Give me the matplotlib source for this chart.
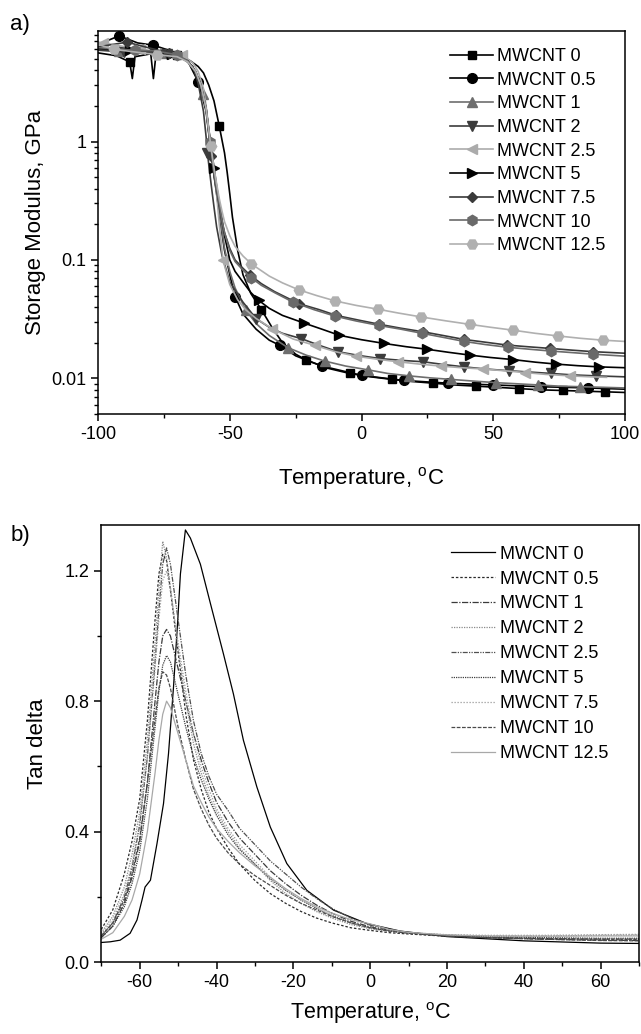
import matplotlib
matplotlib.use("Agg")
import matplotlib.pyplot as plt
from matplotlib.ticker import FixedLocator, FixedFormatter, LogLocator, MultipleLocator, NullFormatter

plt.rcParams['font.family'] = ['Liberation Sans', 'DejaVu Sans']
plt.rcParams['mathtext.fontset'] = 'custom'
plt.rcParams['mathtext.rm'] = 'Liberation Sans'
plt.rcParams['axes.unicode_minus'] = False

labels = ['MWCNT 0', 'MWCNT 0.5', 'MWCNT 1', 'MWCNT 2', 'MWCNT 2.5',
          'MWCNT 5', 'MWCNT 7.5', 'MWCNT 10', 'MWCNT 12.5']

# ---- a) storage modulus (GPa) vs temperature ----
T_0 = [-100, -93, -88, -87, -86, -80, -79, -78, -70, -65, -62, -60, -58, -56, -54, -52, -51, -50,
       -49, -47, -45, -42, -38, -34, -30, -25, -21, -13, -4.5, 3.5, 11.5, 19.5, 27.3, 35, 43.3,
       51.5, 59.6, 68, 76.3, 84, 92.3, 100]
E_0 = [5.6, 5.3, 4.7, 3.4, 5.2, 5.5, 3.4, 5.5, 5.4, 4.8, 4.3, 3.8, 3.0, 2.2, 1.35, 0.8, 0.55, 0.36,
       0.23, 0.12, 0.075, 0.052, 0.038, 0.027, 0.02, 0.016, 0.0143, 0.0122, 0.011, 0.0103, 0.0098,
       0.0094, 0.0091, 0.0088, 0.0086, 0.0084, 0.0082, 0.008, 0.0079, 0.0078, 0.0077, 0.0076]
M_0 = [-88, -70, -54, -38, -21, -4.5, 11.5, 27.3, 43.3, 59.6, 76.3, 92.3]

T_05 = [-100, -92, -85, -79, -70, -66, -62, -60, -59, -57.5, -56, -55, -54, -53, -52, -50, -48, -45,
        -40, -35, -31, -25, -20, -15, 0, 16, 33, 50, 68, 86, 100]
E_05 = [6.6, 7.8, 6.8, 6.5, 5.6, 4.8, 3.2, 2.2, 1.8, 0.95, 0.52, 0.36, 0.25, 0.17, 0.12, 0.075, 0.049,
        0.035, 0.026, 0.021, 0.019, 0.0155, 0.014, 0.0127, 0.0106, 0.0096, 0.0091, 0.0088, 0.0085,
        0.0083, 0.0081]
M_05 = [-92, -79, -62, -48, -31, -15, 0, 16, 33, 50, 68, 86]

T_1 = [-100, -92, -84, -76, -70, -66, -63, -60, -59, -57.5, -56, -55, -54, -53, -52, -50, -48, -44,
       -40, -35, -28, -21, -14, -6, 2.5, 10, 18, 26, 34, 42, 51, 59, 67, 75, 83, 92, 100]
E_1 = [6.0, 5.8, 5.7, 5.6, 5.3, 4.7, 3.9, 2.5, 1.9, 1.0, 0.55, 0.38, 0.26, 0.18, 0.125, 0.08, 0.058,
       0.038, 0.029, 0.023, 0.0182, 0.0157, 0.014, 0.0127, 0.0118, 0.011, 0.0105, 0.0101, 0.0098,
       0.0095, 0.0092, 0.009, 0.0088, 0.0086, 0.0085, 0.0084, 0.0083]
M_1 = [-92, -76, -60, -44, -28, -14, 2.5, 18, 34, 51, 67, 83]

T_2 = [-100, -90, -82, -74, -68, -64, -62, -60, -59, -58.5, -57, -56, -55, -53, -50, -45, -40, -35,
       -30, -23, -16, -9, -1, 7, 15, 23.5, 31, 39, 47, 56, 64, 72, 80, 89, 100]
E_2 = [5.9, 5.7, 5.6, 5.5, 5.1, 4.3, 3.1, 1.8, 1.1, 0.8, 0.42, 0.28, 0.19, 0.11, 0.065, 0.044, 0.0319,
       0.027, 0.024, 0.0217, 0.019, 0.0168, 0.0156, 0.0147, 0.0142, 0.0138, 0.0131, 0.0125, 0.012,
       0.0116, 0.0113, 0.011, 0.0107, 0.0105, 0.0103]
M_2 = [-90, -74, -58.5, -40, -23, -9, 7, 23.5, 39, 56, 72, 89]

T_25 = [-100, -98, -84, -75, -68, -64, -62, -60, -59, -57.5, -56, -55, -54, -52.6, -50, -47, -44, -40,
        -34, -26, -17.7, -10, -2.2, 6, 14, 22, 30, 38, 46, 54, 62, 70, 79, 87, 93]
E_25 = [6.9, 6.8, 6.0, 5.7, 5.4, 4.6, 3.9, 2.8, 2.0, 1.05, 0.58, 0.36, 0.2, 0.1, 0.062, 0.046, 0.038,
        0.032, 0.0263, 0.0215, 0.019, 0.0168, 0.0154, 0.0145, 0.0138, 0.0132, 0.0127, 0.0123, 0.012,
        0.0116, 0.0112, 0.0108, 0.0105, 0.0103, 0.0102]
M_25 = [-98, -84, -68, -52.6, -34, -17.7, -2.2, 14, 30, 46, 62, 79]

T_5 = [-100, -88, -80, -72, -66, -63, -61, -59, -57.5, -56, -55, -54, -53, -52, -50, -48, -45, -42,
       -39, -35, -30, -22, -15, -8.4, 0, 8.7, 17, 25, 33, 41.3, 49, 57.6, 66, 73.9, 82, 90.2, 100]
E_5 = [6.1, 5.9, 5.8, 5.5, 4.8, 3.9, 3.0, 1.9, 1.05, 0.6, 0.42, 0.3, 0.22, 0.16, 0.1, 0.08, 0.065,
       0.053, 0.0455, 0.039, 0.034, 0.0294, 0.026, 0.0231, 0.0212, 0.0197, 0.0185, 0.0176, 0.0166,
       0.0157, 0.015, 0.0144, 0.0137, 0.0132, 0.0128, 0.0125, 0.0123]
M_5 = [-88, -72, -56, -39, -22, -8.4, 8.7, 25, 41.3, 57.6, 73.9, 90.2]

T_75 = [-100, -89, -81, -73, -66, -63, -61, -59, -57, -56, -55, -54, -53, -52, -50, -48, -45, -42.2,
        -38, -33, -23.6, -16, -9.6, -1, 6.8, 15, 23.5, 31, 39, 47, 55.3, 63, 71.6, 80, 87.9, 100]
E_75 = [6.3, 6.9, 6.2, 5.6, 4.8, 3.9, 3.0, 1.9, 0.75, 0.52, 0.38, 0.28, 0.21, 0.17, 0.125, 0.1, 0.085,
        0.074, 0.063, 0.054, 0.0426, 0.038, 0.034, 0.031, 0.0286, 0.0265, 0.0247, 0.023, 0.0213,
        0.0202, 0.0191, 0.0185, 0.0179, 0.0173, 0.0168, 0.0163]
M_75 = [-89, -73, -57, -42.2, -23.6, -9.6, 6.8, 23.5, 39, 55.3, 71.6, 87.9]

T_10 = [-100, -86, -78, -70, -66, -63, -61, -59, -57.5, -56, -55, -54, -53, -52, -50, -48, -45, -42,
        -38, -33, -26, -18, -10, -2, 6.5, 15, 23, 31, 39, 47, 55.5, 64, 72, 80, 88, 100]
E_10 = [6.2, 5.9, 5.8, 5.4, 4.8, 3.9, 3.0, 1.9, 1.0, 0.55, 0.4, 0.3, 0.22, 0.17, 0.12, 0.097, 0.082,
        0.071, 0.061, 0.053, 0.044, 0.038, 0.0335, 0.0305, 0.028, 0.026, 0.024, 0.0222, 0.0205,
        0.0193, 0.0183, 0.0176, 0.017, 0.0165, 0.016, 0.0154]
M_10 = [-86, -70, -57.5, -42, -26, -10, 6.5, 23, 39, 55.5, 72, 88]

T_125 = [-100, -94, -86, -77.7, -70, -66, -63, -61, -59, -57.2, -56, -55, -54, -53, -52, -50, -48,
         -45, -41.8, -35, -30, -23.9, -17, -9.9, -2, 6.4, 14, 22.7, 32, 41, 49, 57.6, 66, 74.7, 83,
         91.8, 100]
E_125 = [6.6, 6.0, 5.7, 5.4, 5.2, 4.7, 3.9, 3.0, 1.9, 0.91, 0.6, 0.44, 0.33, 0.26, 0.21, 0.16, 0.13,
         0.108, 0.0925, 0.073, 0.064, 0.056, 0.05, 0.045, 0.0413, 0.0383, 0.0356, 0.033, 0.0306,
         0.0286, 0.027, 0.0255, 0.024, 0.0228, 0.0218, 0.021, 0.0205]
M_125 = [-94, -77.7, -57.2, -41.8, -23.9, -9.9, 6.4, 22.7, 41, 57.6, 74.7, 91.8]

# ---- b) tan delta vs temperature ----
Tt_0 = [-70, -67.7, -65.1, -62.5, -60.7, -59.4, -58.6, -57.2, -55.5, -53.8, -52.5, -51.2, -50.1,
        -49.4, -48.1, -46.8, -44.2, -41.6, -38.2, -35.6, -33.0, -29.5, -26.0, -21.7, -16.5, -9.5,
        -0.9, 7.8, 20, 40, 60, 70]
tan_0 = [0.06, 0.062, 0.067, 0.088, 0.129, 0.19, 0.23, 0.251, 0.363, 0.486, 0.639, 0.843, 1.047,
         1.19, 1.325, 1.30, 1.22, 1.1, 0.945, 0.822, 0.68, 0.537, 0.414, 0.302, 0.22, 0.159,
         0.118, 0.095, 0.078, 0.065, 0.058, 0.057]

Tt = [-70, -67, -64, -62, -60, -58, -56, -55, -54, -53, -52, -50, -48, -46, -44, -42, -40, -37,
      -34, -30, -26, -22, -18, -14, -10, -5, 0, 5, 10, 20, 30, 45, 60, 70]
tan_05 = [0.10, 0.16, 0.27, 0.37, 0.50, 0.74, 1.05, 1.19, 1.25, 1.23, 1.14, 0.95, 0.76, 0.62, 0.53,
          0.46, 0.41, 0.35, 0.30, 0.25, 0.21, 0.18, 0.155, 0.135, 0.12, 0.105, 0.097, 0.09, 0.086,
          0.079, 0.075, 0.072, 0.07, 0.07]
tan_1 = [0.075, 0.11, 0.18, 0.26, 0.37, 0.55, 0.8, 0.92, 1.0, 1.02, 1.0, 0.9, 0.8, 0.7, 0.62, 0.55,
         0.49, 0.43, 0.38, 0.33, 0.28, 0.24, 0.205, 0.175, 0.15, 0.125, 0.108, 0.097, 0.09, 0.08,
         0.075, 0.07, 0.067, 0.066]
tan_2 = [0.09, 0.14, 0.23, 0.33, 0.46, 0.68, 0.98, 1.14, 1.29, 1.24, 1.15, 0.96, 0.8, 0.67, 0.58,
         0.51, 0.46, 0.4, 0.35, 0.3, 0.25, 0.21, 0.18, 0.155, 0.135, 0.115, 0.102, 0.094, 0.089,
         0.083, 0.08, 0.08, 0.082, 0.083]
tan_25 = [0.08, 0.12, 0.2, 0.29, 0.42, 0.63, 0.92, 1.08, 1.22, 1.27, 1.22, 1.05, 0.88, 0.74, 0.64,
          0.57, 0.515, 0.465, 0.41, 0.36, 0.31, 0.27, 0.23, 0.195, 0.165, 0.135, 0.113, 0.1, 0.09,
          0.08, 0.075, 0.072, 0.07, 0.07]
tan_5 = [0.075, 0.11, 0.17, 0.24, 0.34, 0.5, 0.72, 0.83, 0.91, 0.94, 0.92, 0.82, 0.72, 0.63, 0.56,
         0.5, 0.45, 0.39, 0.345, 0.3, 0.255, 0.22, 0.19, 0.165, 0.143, 0.12, 0.105, 0.096, 0.09,
         0.082, 0.078, 0.075, 0.073, 0.073]
tan_75 = [0.085, 0.13, 0.21, 0.3, 0.43, 0.63, 0.9, 1.05, 1.17, 1.2, 1.14, 0.98, 0.83, 0.7, 0.6,
          0.53, 0.47, 0.41, 0.36, 0.31, 0.26, 0.22, 0.19, 0.165, 0.14, 0.12, 0.105, 0.096, 0.09,
          0.084, 0.082, 0.082, 0.084, 0.085]
tan_10 = [0.08, 0.12, 0.19, 0.27, 0.38, 0.55, 0.75, 0.84, 0.89, 0.88, 0.84, 0.72, 0.62, 0.53, 0.47,
          0.42, 0.38, 0.335, 0.3, 0.265, 0.235, 0.205, 0.18, 0.16, 0.14, 0.12, 0.105, 0.095, 0.088,
          0.08, 0.075, 0.07, 0.066, 0.065]
tan_125 = [0.07, 0.09, 0.14, 0.19, 0.27, 0.4, 0.58, 0.68, 0.76, 0.8, 0.78, 0.7, 0.62, 0.54, 0.49,
           0.445, 0.41, 0.37, 0.335, 0.295, 0.26, 0.225, 0.195, 0.17, 0.15, 0.13, 0.117, 0.1, 0.091,
           0.083, 0.08, 0.079, 0.08, 0.08]

mod_T = [T_0, T_05, T_1, T_2, T_25, T_5, T_75, T_10, T_125]
mod_E = [E_0, E_05, E_1, E_2, E_25, E_5, E_75, E_10, E_125]
mod_M = [M_0, M_05, M_1, M_2, M_25, M_5, M_75, M_10, M_125]
tan_T = [Tt_0] + [Tt] * 8
tan_all = [tan_0, tan_05, tan_1, tan_2, tan_25, tan_5, tan_75, tan_10, tan_125]

colors_a = ['#000000', '#000000', '#6e6e6e', '#3c3c3c', '#ababab', '#000000', '#3a3a3a', '#6a6a6a', '#b0b0b0']
markers_a = ['s', 'o', '^', 'v', '<', '>', 'D', 'h', 'H']
msize_a = [6, 7, 7, 7, 7, 7, 5.5, 7.5, 7.5]

colors_b = ['#000000', '#2a2a2a', '#3a3a3a', '#8a8a8a', '#505050', '#404040', '#9a9a9a', '#4a4a4a', '#a8a8a8']
styles_b = ['-', (0, (2, 1.5)), (0, (5, 1.2, 1, 1.2)), (0, (1, 1)), (0, (4, 1, 1, 1, 1, 1)),
            (0, (1, 0.8)), (0, (1, 1.4)), (0, (3, 1.2)), '-']

fig = plt.figure(figsize=(6.41, 10.34), dpi=100)
ax1 = fig.add_axes([0.153, 0.5996, 0.822, 0.370])
ax2 = fig.add_axes([0.158, 0.0696, 0.839, 0.4226])

for i in range(9):
    mk = [j for j, t in enumerate(mod_T[i]) if t in mod_M[i]]
    ax1.plot(mod_T[i], mod_E[i], color=colors_a[i], lw=1.2, marker=markers_a[i],
             markersize=msize_a[i], markevery=mk, label=labels[i])

ax1.set_yscale('log')
ax1.set_xlim(-100, 100)
ax1.set_ylim(0.005, 8.5)
ax1.xaxis.set_major_locator(FixedLocator([-100, -50, 0, 50, 100]))
ax1.xaxis.set_minor_locator(MultipleLocator(25))
ax1.yaxis.set_major_locator(FixedLocator([0.01, 0.1, 1]))
ax1.yaxis.set_major_formatter(FixedFormatter(['0.01', '0.1', '1']))
ax1.yaxis.set_minor_locator(LogLocator(base=10, subs=range(2, 10)))
ax1.yaxis.set_minor_formatter(NullFormatter())
ax1.set_xlabel(r'Temperature, $\mathregular{^o}$C', fontsize=16, labelpad=16)
ax1.set_ylabel('Storage Modulus, GPa', fontsize=16, labelpad=4)
ax1.legend(loc='upper left', bbox_to_anchor=(0.668, 0.957), frameon=False, fontsize=13,
           handlelength=2.4, handletextpad=0.2, labelspacing=0.37, borderpad=0,
           borderaxespad=0, numpoints=1)

for i in range(9):
    ax2.plot(tan_T[i], tan_all[i], color=colors_b[i], lw=0.9, linestyle=styles_b[i], label=labels[i])

ax2.set_xlim(-70, 70)
ax2.set_ylim(0, 1.34)
ax2.xaxis.set_major_locator(FixedLocator([-60, -40, -20, 0, 20, 40, 60]))
ax2.xaxis.set_minor_locator(MultipleLocator(10))
ax2.yaxis.set_major_locator(FixedLocator([0.0, 0.4, 0.8, 1.2]))
ax2.yaxis.set_major_formatter(FixedFormatter(['0.0', '0.4', '0.8', '1.2']))
ax2.yaxis.set_minor_locator(MultipleLocator(0.2))
ax2.set_xlabel(r'Temperature, $\mathregular{^o}$C', fontsize=15.5, labelpad=7)
ax2.set_ylabel('Tan delta', fontsize=16, labelpad=12)
ax2.legend(loc='upper left', bbox_to_anchor=(0.651, 0.953), frameon=False, fontsize=13,
           handlelength=2.4, handletextpad=0.3, labelspacing=0.44, borderpad=0,
           borderaxespad=0)

for ax in (ax1, ax2):
    for s in ax.spines.values():
        s.set_linewidth(1.1)
    ax.tick_params(which='major', direction='out', length=5, width=1.1, labelsize=13,
                   top=False, right=False)
    ax.tick_params(which='minor', direction='out', length=3, width=1.0, top=False, right=False)

fig.text(0.016, 0.976, 'a)', fontsize=16, va='center', ha='left')
fig.text(0.016, 0.482, 'b)', fontsize=16, va='center', ha='left')

fig.savefig('out.png', dpi=100)
